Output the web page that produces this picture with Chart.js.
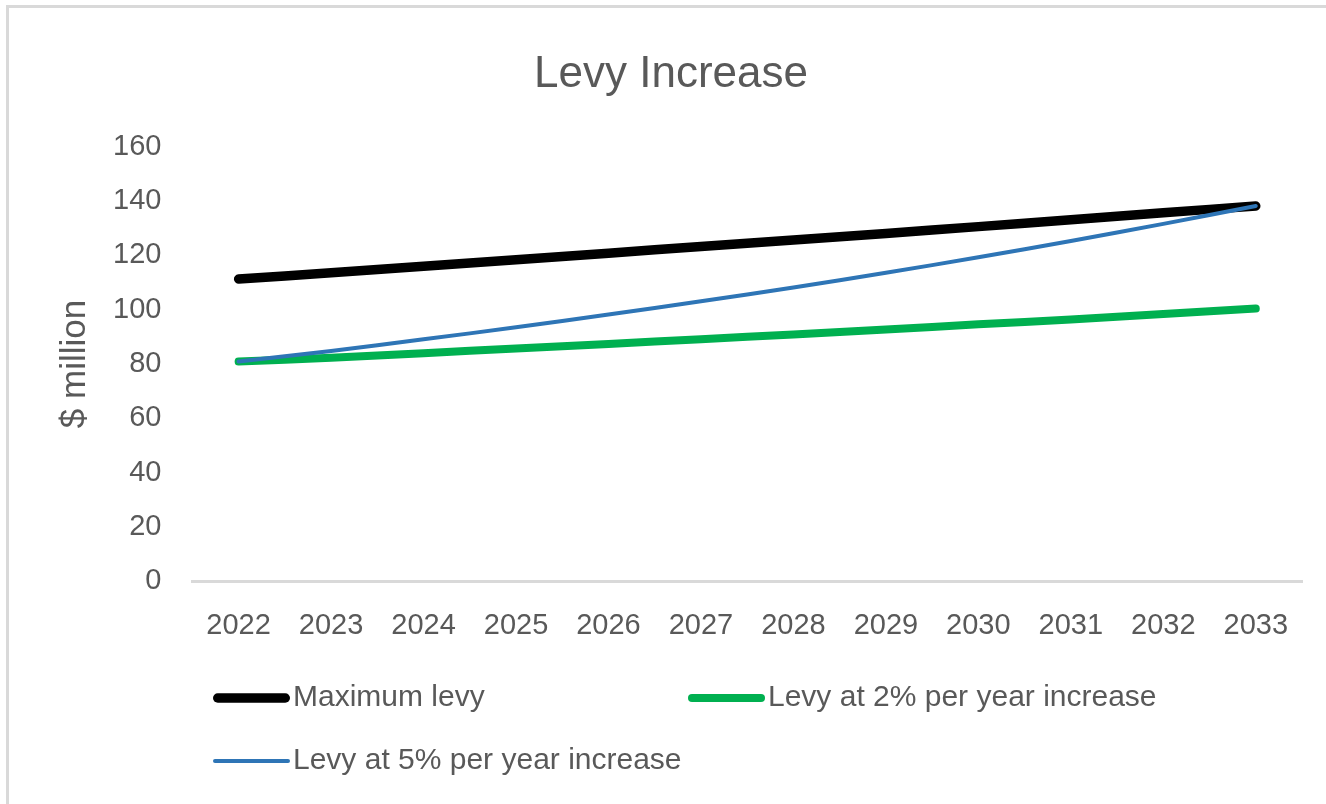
<!DOCTYPE html>
<html>
<head>
<meta charset="utf-8">
<script src="https://cdn.jsdelivr.net/npm/chart.js@4.4.1/dist/chart.umd.min.js"></script>
<style>
  html, body { margin: 0; padding: 0; background: #fff; overflow: hidden; }
  canvas { display: block; }
</style>
</head>
<body>
<canvas id="c" width="1326" height="804"></canvas>
<script>
// Years on the x axis
const years = ['2022', '2023', '2024', '2025', '2026', '2027', '2028', '2029', '2030', '2031', '2032', '2033'];

// Levy in $ million per year
const maximumLevy = [111.3, 113.6, 116.0, 118.4, 120.8, 123.3, 125.7, 128.1, 130.6, 133.1, 135.7, 138.2];
const levy2pct    = [80.9, 82.3, 84.0, 85.7, 87.4, 89.1, 90.9, 92.7, 94.6, 96.4, 98.4, 100.4];
const levy5pct    = [80.9, 84.8, 89.1, 93.5, 98.2, 103.1, 108.2, 113.6, 119.3, 125.3, 131.6, 138.2];

// Y axis range and step
const yMin = 0, yMax = 160, yStep = 20;

const FONT = '"Liberation Sans", Arial, sans-serif';
const TEXT = '#595959';

// Light frame along the top and left edges of the chart
const frameEdge = {
  id: 'frameEdge',
  beforeDraw(chart) {
    const ctx = chart.ctx;
    ctx.save();
    ctx.fillStyle = '#ffffff';
    ctx.fillRect(0, 0, chart.width, chart.height);
    ctx.strokeStyle = '#d9d9d9';
    ctx.lineWidth = 3;
    ctx.beginPath();
    ctx.moveTo(7.5, chart.height);
    ctx.lineTo(7.5, 6.5);
    ctx.lineTo(chart.width, 6.5);
    ctx.stroke();
    ctx.restore();
  }
};

// Two-column legend drawn under the plot
const legendLayout = { textX: [293, 768], rowY: [698, 761], swatchLen: 80, swatchGap: 3, size: 30 };
const gridLegend = {
  id: 'gridLegend',
  afterDraw(chart) {
    const ctx = chart.ctx;
    chart.data.datasets.forEach((ds, i) => {
      const tx = legendLayout.textX[i % 2];
      const y = legendLayout.rowY[Math.floor(i / 2)];
      const r = ds.borderWidth / 2;
      ctx.save();
      ctx.strokeStyle = ds.borderColor;
      ctx.lineWidth = ds.borderWidth;
      ctx.lineCap = 'round';
      ctx.beginPath();
      ctx.moveTo(tx - legendLayout.swatchLen + r, y);
      ctx.lineTo(tx - legendLayout.swatchGap - r, y);
      ctx.stroke();
      ctx.fillStyle = TEXT;
      ctx.font = legendLayout.size + 'px ' + FONT;
      ctx.textBaseline = 'middle';
      ctx.textAlign = 'left';
      ctx.fillText(ds.label, tx, y);
      ctx.restore();
    });
  }
};

const lineStyle = { pointRadius: 0, pointHoverRadius: 0, tension: 0.3, fill: false,
                    borderCapStyle: 'round', borderJoinStyle: 'round' };

new Chart(document.getElementById('c'), {
  type: 'line',
  data: {
    labels: years,
    datasets: [
      { label: 'Maximum levy', data: maximumLevy, borderColor: '#000000', borderWidth: 9.5, order: 2, ...lineStyle },
      { label: 'Levy at 2% per year increase', data: levy2pct, borderColor: '#00B050', borderWidth: 8, order: 1, ...lineStyle },
      { label: 'Levy at 5% per year increase', data: levy5pct, borderColor: '#2E75B6', borderWidth: 4, order: 0, ...lineStyle }
    ]
  },
  options: {
    responsive: false,
    animation: false,
    devicePixelRatio: 1,
    layout: { padding: { left: 40, right: 24, top: 20, bottom: 134 } },
    plugins: {
      legend: { display: false },
      tooltip: { enabled: false },
      title: {
        display: true,
        text: 'Levy Increase',
        color: TEXT,
        font: { family: FONT, size: 44, weight: 'normal' },
        padding: { top: 28, bottom: 46 }
      }
    },
    scales: {
      x: {
        offset: true,
        grid: { display: false, drawTicks: false },
        border: { display: true, color: '#d9d9d9', width: 3 },
        ticks: { color: TEXT, font: { family: FONT, size: 29 }, padding: 27, maxRotation: 0, autoSkip: false }
      },
      y: {
        min: yMin, max: yMax,
        grid: { display: false, drawTicks: false },
        border: { display: false },
        ticks: { stepSize: yStep, color: TEXT, font: { family: FONT, size: 29 }, padding: 31 },
        title: {
          display: true, text: '$ million', color: TEXT,
          font: { family: FONT, size: 35, weight: 'normal' },
          padding: { top: 14, bottom: -14 }
        }
      }
    }
  },
  plugins: [frameEdge, gridLegend]
});
</script>
</body>
</html>
